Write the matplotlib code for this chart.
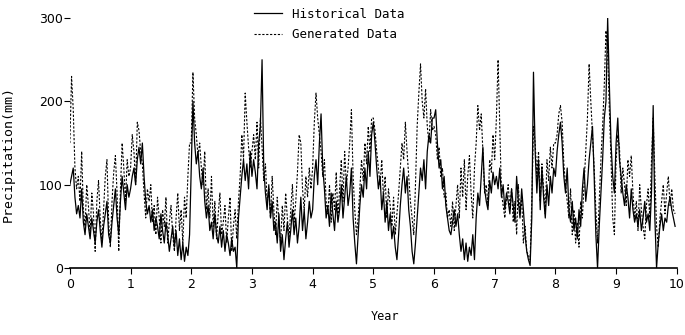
import numpy as np
import matplotlib.pyplot as plt

# Ten-day precipitation totals (mm), 36 values per year
historical = [
    100, 110, 120, 85, 65, 75, 60, 95, 55, 40, 65, 50, 35, 60, 45, 30, 55, 70, 45, 25, 50, 65, 80, 40, 30, 55, 75, 95, 60, 40, 80, 110, 90, 70, 100, 85,
    95, 110, 120, 100, 130, 145, 125, 150, 110, 80, 65, 75, 55, 70, 45, 60, 50, 35, 65, 45, 30, 55, 40, 20, 35, 50, 25, 45, 15, 35, 10, 30, 8, 25, 15, 40,
    120, 200, 150, 125, 140, 110, 95, 120, 80, 60, 75, 45, 55, 35, 65, 40, 30, 50, 25, 45, 20, 40, 30, 15, 35, 20, 25, 0, 60, 85, 110, 130, 105, 125, 95, 140,
    110, 130, 115, 95, 150, 170, 250, 120, 90, 70, 100, 60, 80, 45, 55, 30, 65, 20, 40, 10, 35, 55, 25, 45, 70, 40, 60, 30, 50, 85, 45, 70, 35, 55, 80, 60,
    70, 110, 130, 100, 150, 185, 120, 95, 60, 75, 50, 90, 65, 45, 80, 55, 70, 100, 60, 85, 110, 75, 90, 120, 60, 30, 5, 40, 75, 100, 85, 120, 95, 140, 110, 160,
    175, 150, 120, 95, 110, 70, 90, 55, 80, 45, 65, 35, 50, 25, 10, 40, 75, 100, 120, 90, 110, 70, 50, 20, 5, 30, 60, 90, 120, 105, 130, 95, 140, 160, 150, 180,
    180, 190, 150, 120, 130, 95, 110, 75, 60, 45, 40, 55, 70, 50, 65, 40, 20, 35, 10, 30, 8, 25, 15, 40, 10, 60, 90, 75, 110, 145, 95, 80, 70, 105, 90, 115,
    100, 110, 95, 120, 85, 100, 70, 90, 80, 65, 95, 75, 55, 110, 80, 60, 95, 70, 40, 20, 10, 3, 60, 235, 140, 90, 130, 70, 120, 85, 60, 100, 75, 110, 90, 120,
    110, 140, 160, 175, 150, 110, 90, 120, 70, 55, 80, 45, 60, 35, 70, 50, 95, 120, 80, 100, 130, 150, 170, 110, 40, 0, 50, 90, 130, 180, 200, 300, 220, 150, 110, 90,
    150, 180, 130, 110, 90, 75, 100, 85, 60, 95, 70, 55, 65, 50, 70, 45, 60, 80, 55, 65, 45, 90, 195, 60, 0, 30, 50, 65, 45, 60, 55, 75, 85, 70, 60, 50,
]
generated = [
    150, 230, 190, 120, 95, 110, 80, 140, 70, 50, 100, 75, 40, 90, 65, 20, 80, 105, 60, 30, 70, 110, 130, 55, 25, 80, 115, 135, 90, 20, 95, 150, 120, 80, 130, 110,
    120, 160, 140, 100, 175, 165, 140, 125, 90, 60, 95, 80, 100, 55, 75, 40, 85, 60, 30, 70, 50, 85, 30, 55, 75, 40, 20, 60, 90, 45, 70, 30, 85, 60, 110, 150,
    150, 235, 180, 160, 135, 150, 120, 100, 140, 70, 95, 60, 110, 50, 80, 35, 65, 90, 40, 55, 75, 30, 60, 85, 20, 50, 70, 35, 80, 110, 160, 130, 210, 175, 145, 120,
    140, 160, 130, 175, 120, 180, 145, 105, 125, 80, 95, 60, 110, 70, 40, 85, 55, 30, 75, 45, 90, 60, 35, 70, 100, 55, 80, 115, 160, 150, 95, 70, 110, 85, 120, 95,
    120, 175, 210, 180, 160, 140, 110, 130, 80, 65, 100, 55, 90, 70, 115, 60, 95, 130, 80, 140, 100, 120, 150, 190, 110, 70, 40, 60, 95, 130, 105, 150, 125, 170, 140, 180,
    180, 165, 140, 120, 100, 130, 85, 110, 60, 95, 75, 50, 85, 40, 65, 90, 120, 150, 130, 175, 140, 110, 80, 60, 40, 100, 170, 210, 245, 200, 180, 215, 170, 150, 190, 165,
    170, 160, 130, 145, 110, 120, 85, 90, 60, 70, 50, 80, 45, 75, 100, 60, 120, 85, 130, 70, 110, 135, 90, 60, 120, 150, 195, 165, 185, 140, 90, 100, 75, 130, 115, 160,
    130, 180, 250, 170, 90, 75, 60, 85, 100, 70, 95, 55, 80, 40, 100, 65, 85, 30, 50, 20, 15, 10, 80, 170, 150, 110, 140, 80, 125, 95, 65, 130, 105, 145, 120, 150,
    150, 160, 185, 195, 175, 125, 100, 80, 60, 95, 40, 70, 30, 55, 25, 80, 60, 100, 140, 180, 245, 200, 160, 120, 70, 30, 80, 130, 170, 220, 285, 260, 190, 130, 60, 40,
    130, 160, 145, 90, 120, 100, 75, 130, 110, 135, 90, 60, 80, 45, 100, 70, 50, 35, 75, 95, 60, 130, 180, 110, 50, 25, 60, 80, 100, 65, 90, 110, 75, 95, 70, 65,
]
x_ticks = list(range(11))
y_ticks = [0, 100, 200, 300]

years = np.arange(len(historical)) / 36.0

fig = plt.figure(figsize=(6.85, 3.35), dpi=100)
ax = fig.add_axes([0.102, 0.2, 0.886, 0.746])

ax.plot(years, historical, color='black', lw=0.9, ls='-', label='Historical Data')
ax.plot(years, generated, color='black', lw=0.8, ls=(0, (2, 1.5)), label='Generated Data')

ax.set_xlim(0, 10)
ax.set_ylim(0, 300)
ax.set_xticks(x_ticks)
ax.set_yticks(y_ticks)
ax.tick_params(axis='both', labelsize=9, length=4, width=0.8, direction='out')
ax.tick_params(axis='y', pad=1)
for s in ['top', 'right', 'left']:
    ax.spines[s].set_visible(False)
ax.spines['bottom'].set_linewidth(1.2)

mono = 'DejaVu Sans Mono'
ax.set_xlabel('Year', family=mono, fontsize=8.5)
ax.set_ylabel('Precipitation(mm)', family=mono, fontsize=9.5)
ax.xaxis.set_label_coords(0.52, -0.17)
ax.yaxis.set_label_coords(-0.09, 0.456)

fig.legend(loc='upper left', bbox_to_anchor=(0.36, 1.0), frameon=False,
           prop={'family': mono, 'size': 9}, handlelength=2.2,
           labelspacing=0.6, borderaxespad=0.2)

fig.savefig('out.png', dpi=100)
